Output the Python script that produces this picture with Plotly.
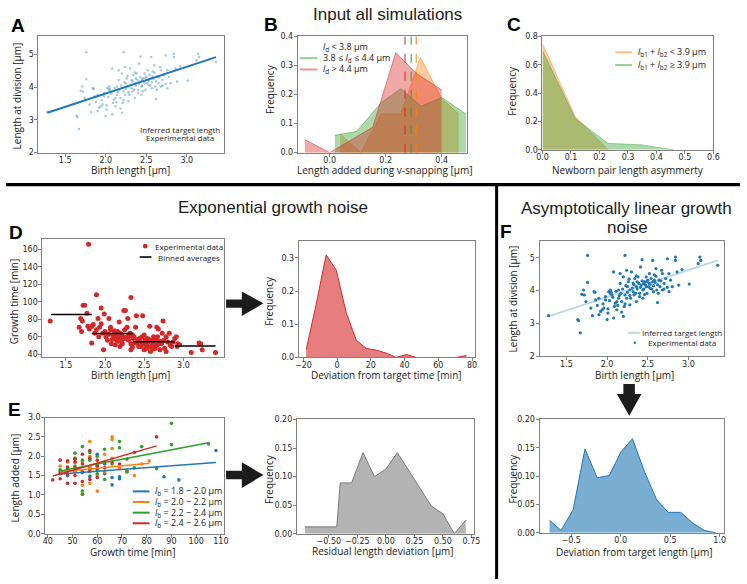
import plotly.graph_objects as go

W, H = 747, 584

# ---------------- DATA ----------------
# Panels A and F: birth length vs length at division (experimental data)
birth_len = [1.28, 1.76, 2.22, 1.64, 1.65, 1.67, 1.76, 1.69, 1.71, 1.74, 1.72, 1.80, 1.82, 1.84, 1.85,
             1.86, 1.90, 1.90, 1.92, 1.94, 1.96, 1.98, 2.00, 2.01, 2.02, 2.04, 2.04, 2.06, 2.08, 2.08,
             2.09, 2.10, 2.12, 2.12, 2.14, 2.14, 2.16, 2.16, 2.17, 2.18, 2.20, 2.20, 2.21, 2.22, 2.24,
             2.24, 2.25, 2.26, 2.28, 2.28, 2.29, 2.30, 2.32, 2.32, 2.33, 2.34, 2.36, 2.36, 2.37, 2.38,
             2.40, 2.40, 2.41, 2.42, 2.43, 2.44, 2.44, 2.45, 2.46, 2.48, 2.48, 2.49, 2.50, 2.52, 2.52,
             2.53, 2.54, 2.56, 2.56, 2.57, 2.58, 2.60, 2.60, 2.61, 2.62, 2.64, 2.65, 2.67, 2.68, 2.68,
             2.70, 2.72, 2.74, 2.76, 2.76, 2.78, 2.80, 2.84, 2.84, 2.86, 2.88, 2.92, 3.01, 3.12, 3.14,
             3.15, 3.36,
             2.05, 2.07, 2.11, 2.13, 2.15, 2.19, 2.23, 2.25, 2.27, 2.31, 2.33, 2.35, 2.37, 2.39, 2.41,
             2.43, 2.45, 2.47, 2.49, 2.51, 2.53, 2.55, 2.57, 2.59, 2.62, 2.66, 2.70, 2.18, 2.22, 1.98,
             1.95, 2.03, 2.28, 2.46, 2.63, 2.74, 1.88, 2.01, 2.36, 2.58]
div_len = [3.24, 5.07, 5.07, 3.12, 3.09, 2.72, 4.25, 3.89, 4.02, 3.67, 3.87, 3.47, 3.24, 3.97, 3.95,
           3.72, 3.77, 3.27, 3.37, 3.42, 3.47, 3.72, 3.12, 3.32, 3.97, 4.02, 3.92, 3.87, 4.57, 3.17,
           3.52, 3.62, 3.42, 3.67, 3.77, 4.02, 4.52, 4.22, 3.92, 3.67, 3.22, 4.42, 3.52, 3.87, 3.77,
           4.62, 4.12, 4.27, 4.02, 3.57, 3.77, 4.57, 4.22, 3.97, 3.87, 4.37, 3.67, 4.12, 4.27, 4.42,
           3.92, 3.82, 4.72, 4.17, 4.94, 4.02, 3.77, 4.22, 4.27, 4.42, 4.12, 3.92, 4.32, 4.52, 4.22,
           4.07, 4.37, 4.92, 4.27, 3.97, 4.32, 4.44, 4.67, 4.02, 3.64, 4.32, 4.12, 4.62, 4.52, 4.02,
           4.22, 4.37, 4.97, 3.97, 4.52, 4.32, 4.12, 5.02, 4.92, 4.57, 4.17, 4.64, 4.20, 4.82, 5.02,
           4.92, 4.77,
           3.95, 3.80, 3.98, 3.55, 3.85, 4.05, 4.15, 3.95, 4.35, 4.08, 4.18, 3.92, 4.05, 4.22, 4.10,
           4.30, 4.05, 4.18, 4.28, 4.12, 4.20, 4.05, 4.15, 4.25, 4.18, 4.30, 4.05, 3.35, 3.60, 3.82,
           3.60, 3.70, 3.85, 3.88, 3.92, 4.10, 3.55, 3.45, 4.45, 4.48]
target_x = [1.28, 3.36]
target_y = [3.22, 4.92]

# Panel B: length added during v-snapping
b_small_x = [0.037, 0.111, 0.184, 0.254, 0.324, 0.400, 0.461]
b_small_y = [0.065, 0.0, 0.133, 0.133, 0.328, 0.187, 0.133]
b_mid_x = [0.018, 0.096, 0.184, 0.254, 0.327, 0.400, 0.487]
b_mid_y = [0.060, 0.073, 0.172, 0.220, 0.160, 0.190, 0.133]
b_large_x = [-0.089, 0.0, 0.154, 0.236, 0.307, 0.400]
b_large_y = [0.045, 0.0, 0.088, 0.345, 0.275, 0.216]
b_means = [0.309, 0.291, 0.269]   # orange, green, red

# Panel C: newborn pair length asymmetry
c_x_small = [0.0, 0.115, 0.23]
c_y_small = [0.75, 0.235, 0.0]
c_x_large = [0.0, 0.115, 0.23, 0.345, 0.46]
c_y_large = [0.70, 0.22, 0.045, 0.035, 0.0]

# Panel D: birth length vs growth time
d_birth = [1.30, 1.79, 1.89, 2.33, 1.72, 1.74, 1.95, 1.69, 1.67, 1.71, 1.70, 1.77, 1.78, 1.80, 1.83,
           1.85, 1.87, 1.83, 1.89, 1.91, 1.92, 1.93, 1.95, 1.97, 1.98, 1.99, 2.01, 2.03, 2.05, 2.07,
           2.07, 2.08, 2.10, 2.11, 2.12, 2.13, 2.14, 2.15, 2.16, 2.17, 2.18, 2.19, 2.20, 2.21, 2.22,
           2.23, 2.24, 2.25, 2.26, 2.28, 2.28, 2.29, 2.30, 2.32, 2.33, 2.33, 2.35, 2.36, 2.37, 2.39,
           2.40, 2.41, 2.42, 2.43, 2.44, 2.45, 2.46, 2.47, 2.48, 2.49, 2.50, 2.51, 2.53, 2.53, 2.54,
           2.55, 2.57, 2.58, 2.58, 2.60, 2.61, 2.62, 2.63, 2.64, 2.65, 2.66, 2.67, 2.68, 2.69, 2.70,
           2.72, 2.73, 2.74, 2.75, 2.76, 2.78, 2.78, 2.80, 2.82, 2.83, 2.85, 2.87, 2.89, 2.91, 2.92,
           2.93, 2.95, 3.10, 3.20, 3.22, 3.24, 3.41,
           2.05, 2.09, 2.13, 2.17, 2.21, 2.25, 2.31, 2.38, 2.42, 2.46, 2.52, 2.56, 2.62, 2.66, 2.70,
           2.12, 2.00, 2.19, 2.35, 2.50]
d_growth = [78, 166, 108, 105, 96, 96, 93, 81, 71, 78, 66, 87, 72, 69, 72,
            74, 64, 53, 68, 81, 60, 71, 75, 64, 45, 86, 60, 56, 81, 71,
            68, 52, 62, 58, 64, 51, 60, 56, 66, 60, 77, 64, 60, 56, 52,
            60, 90, 68, 90, 71, 60, 81, 56, 64, 45, 52, 62, 58, 60, 71,
            84, 56, 52, 49, 58, 54, 49, 60, 84, 52, 45, 56, 51, 47, 58,
            54, 72, 49, 43, 56, 52, 60, 51, 47, 56, 71, 60, 69, 52, 45,
            52, 64, 78, 56, 47, 60, 43, 54, 64, 51, 49, 54, 58, 60, 49,
            52, 51, 42, 53, 52, 45, 42,
            63, 57, 62, 55, 63, 58, 61, 53, 57, 53, 50, 57, 46, 50, 55,
            67, 66, 49, 48, 62]
bin_left = [1.31, 1.83, 2.36, 2.89]
bin_right = [1.83, 2.36, 2.89, 3.41]
bin_mean = [85.5, 63.7, 54.3, 49.4]

# Panel D right: deviation from target time
dt_x = [-18.3, -12.4, -6.5, -0.5, 5.4, 11.4, 17.3, 23.3, 29.2, 35.1, 41.1, 47.0, 52.9, 58.9, 64.8, 70.7, 76.7]
dt_y = [0.024, 0.160, 0.309, 0.263, 0.135, 0.052, 0.027, 0.022, 0.013, 0.0, 0.009, 0.0, 0.0, 0.0, 0.0, 0.0, 0.006]

# Panel E: growth time vs length added, by birth-length group
e_labels = ["1.8 − 2.0", "2.0 − 2.2", "2.2 − 2.4", "2.4 − 2.6"]
e1_t = [45, 48, 51, 54, 57, 57, 60, 60, 63, 63, 66, 66, 69, 69, 72, 75, 87, 93, 108]
e1_l = [1.55, 1.50, 1.62, 1.58, 1.48, 1.72, 2.05, 1.65, 1.55, 1.80, 1.26, 1.45, 1.42, 1.47, 1.60, 2.10, 1.47, 1.39, 2.15]
e2_t = [45, 48, 48, 51, 51, 54, 54, 54, 57, 57, 57, 57, 60, 60, 60, 63, 63, 66, 66, 66, 66, 69, 72, 75, 78, 81]
e2_l = [1.75, 1.65, 1.85, 1.60, 1.95, 1.02, 1.25, 1.85, 2.38, 1.30, 1.70, 2.00, 1.10, 1.50, 1.80, 1.60, 2.05, 2.50, 2.43, 2.20, 1.95, 1.70, 1.65, 1.50, 1.80, 1.88]
e3_t = [45, 48, 51, 51, 51, 51, 54, 54, 54, 54, 57, 57, 57, 60, 60, 60, 63, 63, 63, 66, 69, 69, 72, 75, 78, 84, 90, 90, 105]
e3_l = [1.65, 1.70, 2.08, 1.95, 1.85, 1.75, 2.25, 1.02, 1.10, 1.90, 1.90, 1.60, 2.10, 2.00, 1.75, 1.55, 2.18, 1.40, 1.85, 1.80, 2.38, 2.22, 1.60, 1.70, 2.25, 1.68, 2.85, 2.30, 2.32]
e4_t = [42, 45, 45, 45, 48, 48, 48, 48, 51, 51, 51, 51, 51, 54, 54, 54, 54, 57, 57, 57, 57, 60, 60, 60, 63, 66, 69, 72, 84]
e4_l = [1.39, 1.90, 1.60, 1.42, 1.88, 1.55, 1.72, 1.30, 1.30, 1.50, 1.70, 1.85, 1.92, 1.35, 1.60, 1.80, 2.05, 1.40, 1.65, 1.95, 2.15, 1.45, 1.75, 1.90, 1.70, 1.85, 1.80, 1.93, 2.50]
e_fit_x = [[45, 108], [45, 81], [45, 105], [42, 84]]
e_fit_y = [[1.54, 1.84], [1.60, 1.82], [1.62, 2.35], [1.49, 2.27]]
e_other_t = [108]
e_other_l = [0.25]

# Panel E right: residual length deviation
er_x = [-0.71, -0.43, -0.40, -0.30, -0.20, -0.10, 0.00, 0.10, 0.40, 0.50, 0.60, 0.70]
er_y = [0.012, 0.012, 0.089, 0.089, 0.142, 0.100, 0.113, 0.142, 0.048, 0.035, 0.0, 0.024]

# Panel F bottom: deviation from target length
fb_x = [-0.719, -0.603, -0.480, -0.361, -0.238, -0.116, 0.003, 0.119, 0.242, 0.364, 0.480, 0.606, 0.728, 0.844, 0.964]
fb_y = [0.022, 0.004, 0.041, 0.148, 0.097, 0.101, 0.143, 0.166, 0.107, 0.058, 0.036, 0.036, 0.017, 0.004, 0.0]

# ---------------- STYLE / LAYOUT ----------------
BLUE, ORANGE, GREEN, RED = "#1f77b4", "#ff7f0e", "#2ca02c", "#d62728"
TICKF = dict(family="DejaVu Sans", size=8, color="#262626")
LABF = "Open Sans"

def fx(p):
    return p / W

def fy(p):
    return 1 - p / H

# pixel boxes: left, right, top, bottom
boxes = {
    1: (33, 222, 33, 151),
    2: (297, 469, 33, 151),
    3: (546, 720, 33, 148),
    4: (37, 222, 239, 359),
    5: (298, 477, 241, 359),
    6: (40, 222, 420, 538),
    7: (296, 476, 422, 538),
    8: (543, 731, 241, 358),
    9: (543, 731, 422, 537),
}
axcfg = {
    1: dict(xr=[1.17, 3.46], xt=[1.5, 2.0, 2.5, 3.0], xf=".1f", yr=[2, 5.55], yt=[2, 3, 4, 5], yf="d"),
    2: dict(xr=[-0.114, 0.49], xt=[0.0, 0.2, 0.4], xf=".1f", yr=[0, 0.4], yt=[0, 0.1, 0.2, 0.3, 0.4], yf=".1f"),
    3: dict(xr=[0, 0.6], xt=[0, 0.1, 0.2, 0.3, 0.4, 0.5, 0.6], xf=".1f", yr=[0, 0.8], yt=[0, 0.2, 0.4, 0.6, 0.8], yf=".1f"),
    4: dict(xr=[1.2, 3.52], xt=[1.5, 2.0, 2.5, 3.0], xf=".1f", yr=[36.3, 171.6], yt=[40, 60, 80, 100, 120, 140, 160], yf="d"),
    5: dict(xr=[-22.7, 81.6], xt=[-20, 0, 20, 40, 60, 80], xf="d", yr=[0, 0.35], yt=[0, 0.1, 0.2, 0.3], yf=".1f"),
    6: dict(xr=[39.0, 111.3], xt=[40, 50, 60, 70, 80, 90, 100, 110], xf="d", yr=[0, 3], yt=[0, 0.5, 1.0, 1.5, 2.0, 2.5, 3.0], yf=".1f"),
    7: dict(xr=[-0.78, 0.77], xt=[-0.5, -0.25, 0, 0.25, 0.5, 0.75], xf=".2f", yr=[0, 0.2], yt=[0, 0.05, 0.1, 0.15, 0.2], yf=".2f"),
    8: dict(xr=[1.17, 3.44], xt=[1.5, 2.0, 2.5, 3.0], xf=".1f", yr=[2, 5.5], yt=[2, 3, 4, 5], yf="d"),
    9: dict(xr=[-0.82, 1.046], xt=[-0.5, 0.0, 0.5, 1.0], xf=".1f", yr=[0, 0.2], yt=[0, 0.05, 0.1, 0.15, 0.2], yf=".2f"),
}

fig = go.Figure()

def xy(i):
    return ("x" if i == 1 else f"x{i}"), ("y" if i == 1 else f"y{i}")

def add(i, **kw):
    xa, ya = xy(i)
    fig.add_trace(go.Scatter(xaxis=xa, yaxis=ya, showlegend=False, hoverinfo="skip", **kw))

# A
add(1, x=birth_len, y=div_len, mode="markers", marker=dict(size=2.6, color="rgba(31,119,180,0.4)"))
add(1, x=target_x, y=target_y, mode="lines", line=dict(color=BLUE, width=2))

# B
for xs, ys, col in [(b_small_x, b_small_y, (255, 127, 14)), (b_mid_x, b_mid_y, (44, 160, 44)), (b_large_x, b_large_y, (214, 39, 40))]:
    add(2, x=xs, y=ys, mode="lines", fill="tozeroy",
        fillcolor=f"rgba({col[0]},{col[1]},{col[2]},0.4)", line=dict(color=f"rgba({col[0]},{col[1]},{col[2]},0.5)", width=1))
for m, col in zip(b_means, [ORANGE, GREEN, RED]):
    fig.add_shape(type="line", xref="x2", yref="y2 domain", x0=m, x1=m, y0=0, y1=1,
                  line=dict(color=col, width=1, dash="dash"))

# C
add(3, x=c_x_small, y=c_y_small, mode="lines", fill="tozeroy", fillcolor="rgba(255,127,14,0.4)",
    line=dict(color="rgba(255,127,14,0.4)", width=1))
add(3, x=c_x_large, y=c_y_large, mode="lines", fill="tozeroy", fillcolor="rgba(44,160,44,0.4)",
    line=dict(color="rgba(44,160,44,0.4)", width=1))

# D
add(4, x=d_birth, y=d_growth, mode="markers", marker=dict(size=5, color=RED))
bx, by = [], []
for l, r, m in zip(bin_left, bin_right, bin_mean):
    bx += [l, r, None]
    by += [m, m, None]
add(4, x=bx, y=by, mode="lines", line=dict(color="black", width=1.6))

# D right
add(5, x=dt_x, y=dt_y, mode="lines", fill="tozeroy", fillcolor="rgba(214,39,40,0.6)",
    line=dict(color=RED, width=1))

# E
add(6, x=e_other_t, y=e_other_l, mode="markers", marker=dict(size=3, color="#d8d8d8"))
for (ts, ls), col in zip([(e1_t, e1_l), (e2_t, e2_l), (e3_t, e3_l), (e4_t, e4_l)], [BLUE, ORANGE, GREEN, RED]):
    add(6, x=ts, y=ls, mode="markers", marker=dict(size=3.6, color=col))
for fxs, fys, col in zip(e_fit_x, e_fit_y, [BLUE, ORANGE, GREEN, RED]):
    add(6, x=fxs, y=fys, mode="lines", line=dict(color=col, width=1.4))

# E right
add(7, x=er_x, y=er_y, mode="lines", fill="tozeroy", fillcolor="rgba(128,128,128,0.6)",
    line=dict(color="#7a7a7a", width=1))

# F
add(8, x=target_x, y=target_y, mode="lines", line=dict(color="rgba(31,119,180,0.3)", width=2))
add(8, x=birth_len, y=div_len, mode="markers", marker=dict(size=3.2, color=BLUE))

# F bottom
add(9, x=fb_x, y=fb_y, mode="lines", fill="tozeroy", fillcolor="rgba(31,119,180,0.6)",
    line=dict(color=BLUE, width=1))

layout = dict(width=W, height=H, margin=dict(l=0, r=0, t=0, b=0), paper_bgcolor="white",
              plot_bgcolor="white", showlegend=False)
for i, (l, r, t, b) in boxes.items():
    c = axcfg[i]
    xa, ya = xy(i)
    common = dict(showline=True, mirror=True, linecolor="#808080", linewidth=1, ticks="outside",
                  ticklen=3, tickcolor="#808080", showgrid=False, zeroline=False, tickfont=TICKF)
    layout["xaxis" if i == 1 else f"xaxis{i}"] = dict(domain=[fx(l), fx(r)], range=c["xr"], tickvals=c["xt"],
                                                     tickformat=c["xf"], anchor=ya, ticklabelstandoff=-3, **common)
    layout["yaxis" if i == 1 else f"yaxis{i}"] = dict(domain=[fy(b), fy(t)], range=c["yr"], tickvals=c["yt"],
                                                     tickformat=c["yf"], anchor=xa, ticklabelstandoff=-1, **common)
fig.update_layout(**layout)

ann = []
def text(x, y, s, size=10, family=LABF, angle=0, anchor="center", color="#1a1a1a"):
    ann.append(dict(x=fx(x), y=fy(y), xref="paper", yref="paper", text=s, showarrow=False,
                    xanchor=anchor, yanchor="middle", textangle=angle,
                    font=dict(family=family, size=size, color=color)))

# axis titles
text(127, 169, "Birth length [μm]")
text(11, 93, "Length at division [μm]", angle=-90)
text(385, 169, "Length added during v-snapping [μm]")
text(268, 86, "Frequency", angle=-90)
text(633, 169, "Newborn pair length asymmerty")
text(515, 88, "Frequency", angle=-90)
text(127, 377, "Birth length [μm]")
text(9, 302, "Growth time [min]", angle=-90)
text(387, 377, "Deviation from target time [min]")
text(268, 301, "Frequency", angle=-90)
text(129, 557, "Growth time [min]")
text(9, 481, "Length added [μm]", angle=-90)
text(384, 556, "Residual length deviation [μm]")
text(267, 482, "Frequency", angle=-90)
text(640, 377, "Birth length [μm]")
text(516, 300, "Length at division [μm]", angle=-90)
text(640, 557, "Deviation from target length [μm]")
text(516, 482, "Frequency", angle=-90)

# section titles
TF = "Liberation Sans"
text(388, 11, "Input all simulations", size=17, family=TF)
text(272, 207, "Exponential growth noise", size=17, family=TF)
text(631, 208, "Asymptotically linear growth", size=17, family=TF)
text(632, 227, "noise", size=17, family=TF)

# panel letters
for s, x, y in [("A", 12, 22), ("B", 270, 21), ("C", 517, 21), ("D", 10, 232), ("E", 9, 412), ("F", 509, 231)]:
    text(x, y, f"<b>{s}</b>", size=19, family=TF, color="black")

# legends (manual)
shapes = []
def lline(x0, x1, y, col, w=2):
    shapes.append(dict(type="line", xref="paper", yref="paper", x0=fx(x0), x1=fx(x1), y0=fy(y), y1=fy(y),
                       line=dict(color=col, width=w)))
def ldot(cx, cy, r, col):
    shapes.append(dict(type="circle", xref="paper", yref="paper", x0=fx(cx - r), x1=fx(cx + r),
                       y0=fy(cy + r), y1=fy(cy - r), fillcolor=col, line=dict(width=0)))

LS = 8
LS2 = 9
lline(123, 134, 127, BLUE)
ldot(128.5, 135.5, 1.0, "rgba(31,119,180,0.5)")
text(177, 127, "Inferred target length", size=LS)
text(177, 136, "Experimental data", size=LS)

lline(299, 317, 43.5, "rgba(255,127,14,0.5)")
lline(299, 317, 55, "rgba(44,160,44,0.5)")
lline(299, 317, 66.5, "rgba(214,39,40,0.5)")
text(321, 43.5, "<i>l</i><sub>d</sub> &lt; 3.8 μm", size=LS2, anchor="left")
text(321, 55, "3.8 ≤ <i>l</i><sub>d</sub> ≤ 4.4 μm", size=LS2, anchor="left")
text(321, 66.5, "<i>l</i><sub>d</sub> &gt; 4.4 μm", size=LS2, anchor="left")

lline(620, 637, 49, "rgba(255,127,14,0.5)")
lline(620, 637, 62, "rgba(44,160,44,0.5)")
text(641, 49, "<i>l</i><sub>b1</sub> + <i>l</i><sub>b2</sub> &lt; 3.9 μm", size=LS2, anchor="left")
text(641, 62, "<i>l</i><sub>b1</sub> + <i>l</i><sub>b2</sub> ≥ 3.9 μm", size=LS2, anchor="left")

ldot(141.7, 246, 2.4, RED)
lline(136, 148, 257, "black", 1.6)
text(186, 246, "Experimental data", size=LS)
text(186, 257, "Binned averages", size=LS)

for k, (lab, col) in enumerate(zip(e_labels, [BLUE, ORANGE, GREEN, RED])):
    yy = 495 + k * 10.8
    lline(129, 146, yy, col)
    text(150, yy, f"<i>l</i><sub>b</sub> = {lab} μm", size=LS2, anchor="left")

lline(633, 645, 334, "rgba(31,119,180,0.3)")
ldot(640, 344, 1.2, BLUE)
text(688, 334, "Inferred target length", size=LS)
text(688, 344, "Experimental data", size=LS)

# separators
shapes.append(dict(type="line", xref="paper", yref="paper", x0=0, x1=1, y0=fy(183.5), y1=fy(183.5),
                   line=dict(color="black", width=3.2)))
shapes.append(dict(type="line", xref="paper", yref="paper", x0=fx(499.3), x1=fx(499.3), y0=fy(183.5), y1=0,
                   line=dict(color="black", width=3)))

# arrows
def poly(pts):
    d = "M " + " L ".join(f"{fx(a):.5f},{fy(b):.5f}" for a, b in pts) + " Z"
    shapes.append(dict(type="path", xref="paper", yref="paper", path=d, fillcolor="#1c1c1c",
                       line=dict(width=0)))

poly([(224, 300), (240, 300), (240, 292), (262, 304), (240, 317), (240, 308.5), (224, 308.5)])
poly([(224, 474), (240, 474), (240, 465.5), (262, 478.3), (240, 491.5), (240, 482.7), (224, 482.7)])
poly([(628.3, 386), (640, 386), (640, 396), (646.7, 396), (634.3, 418.3), (621.7, 396), (628.3, 396)])

fig.update_layout(annotations=ann, shapes=shapes)
fig.write_html("out.html", config={"displayModeBar": False},
               post_script="document.body.style.margin='0px';document.body.style.padding='0px';")
